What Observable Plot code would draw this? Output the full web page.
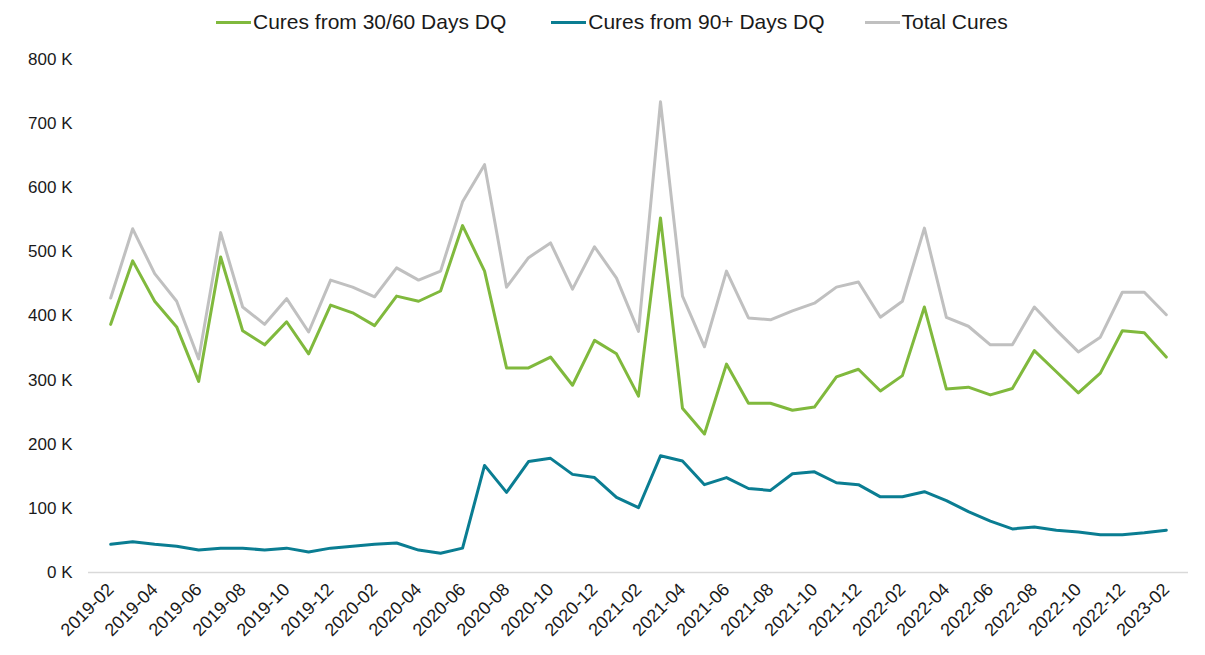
<!DOCTYPE html>
<html>
<head>
<meta charset="utf-8">
<script src="https://cdn.jsdelivr.net/npm/d3@7"></script>
<script src="https://cdn.jsdelivr.net/npm/@observablehq/plot@0.6"></script>
<style>
  html, body { margin: 0; padding: 0; background: #fff; }
  body { width: 1205px; height: 655px; overflow: hidden; font-family: "Liberation Sans", Arial, sans-serif; }
  #legend { height: 44px; display: flex; align-items: center; padding-left: 216px; box-sizing: border-box; font-size: 21px; color: #1a1a1a; }
  .item { display: flex; align-items: center; }
  .sw { display: inline-block; width: 35px; height: 3px; margin-right: 2px; }
</style>
</head>
<body>
<div id="legend"></div>
<div id="chart"></div>
<script>
const months = ["2019-02","2019-03","2019-04","2019-05","2019-06","2019-07","2019-08","2019-09","2019-10","2019-11","2019-12",
  "2020-01","2020-02","2020-03","2020-04","2020-05","2020-06","2020-07","2020-08","2020-09","2020-10","2020-11","2020-12",
  "2021-01","2021-02","2021-03","2021-04","2021-05","2021-06","2021-07","2021-08","2021-09","2021-10","2021-11","2021-12",
  "2022-01","2022-02","2022-03","2022-04","2022-05","2022-06","2022-07","2022-08","2022-09","2022-10","2022-11","2022-12",
  "2023-01","2023-02"];

// values in thousands
const cures3060 = [387,486,423,383,298,492,377,355,391,341,417,405,385,431,423,439,541,470,319,319,336,292,362,341,275,553,256,216,325,264,264,253,258,305,317,283,307,414,286,289,277,287,346,313,280,311,377,374,336];
const cures90 = [44,48,44,41,35,38,38,35,38,32,38,41,44,46,35,30,38,167,125,173,178,153,148,117,101,182,174,137,148,131,128,154,157,140,137,118,118,126,112,95,80,68,71,66,63,59,59,62,66];
const totalCures = [428,536,466,423,333,530,414,387,427,375,456,445,430,475,456,470,578,636,445,491,514,442,508,459,376,734,431,352,470,397,394,408,420,445,453,398,423,537,398,384,355,355,414,378,344,367,437,437,402];

const seriesNames = ["Cures from 30/60 Days DQ", "Cures from 90+ Days DQ", "Total Cures"];
const seriesColors = ["#80b93d", "#0a7d92", "#c0c0c0"];
const yTicks = [0,100,200,300,400,500,600,700,800];
const xTicks = months.filter((d, i) => i % 2 === 0);

// legend
const legend = document.getElementById("legend");
const gaps = [45, 40, 0];
seriesNames.forEach((name, i) => {
  const it = document.createElement("div");
  it.className = "item";
  it.style.marginRight = gaps[i] + "px";
  const sw = document.createElement("span");
  sw.className = "sw";
  sw.style.background = seriesColors[i];
  it.appendChild(sw);
  const t = document.createElement("span");
  t.textContent = name;
  it.appendChild(t);
  legend.appendChild(it);
});

const rows = (vals, s) => months.map((m, i) => ({month: m, value: vals[i], series: s}));
const data3060 = rows(cures3060, seriesNames[0]);
const data90 = rows(cures90, seriesNames[1]);
const dataTotal = rows(totalCures, seriesNames[2]);

const chart = Plot.plot({
  width: 1205,
  height: 611,
  marginTop: 15,
  marginBottom: 83,
  marginLeft: 88,
  marginRight: 17,
  style: {fontFamily: "'Liberation Sans', Arial, sans-serif", color: "#1a1a1a", background: "#fff"},
  x: {type: "point", domain: months, range: [99.2, 1176.8]},
  y: {domain: [0, 800]},
  marks: [
    Plot.axisY({ticks: yTicks, tickSize: 0, tickPadding: 16, fontSize: 17, tickFormat: d => `${d} K`, label: null}),
    Plot.axisX({ticks: xTicks, tickSize: 0, tickPadding: 14, tickRotate: -45, fontSize: 18, label: null}),
    Plot.ruleY([0], {stroke: "#d9d9d9", strokeWidth: 1.5}),
    Plot.lineY(dataTotal, {x: "month", y: "value", stroke: seriesColors[2], strokeWidth: 3}),
    Plot.lineY(data3060, {x: "month", y: "value", stroke: seriesColors[0], strokeWidth: 3}),
    Plot.lineY(data90, {x: "month", y: "value", stroke: seriesColors[1], strokeWidth: 3})
  ]
});
document.getElementById("chart").appendChild(chart);
</script>
</body>
</html>
